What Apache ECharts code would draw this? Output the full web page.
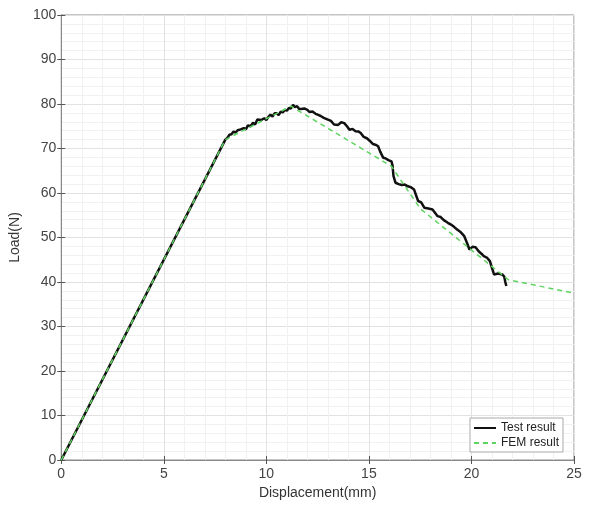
<!DOCTYPE html>
<html>
<head>
<meta charset="utf-8">
<script src="https://cdn.jsdelivr.net/npm/echarts@6/dist/echarts.min.js"></script>
<style>
  html, body { margin: 0; padding: 0; background: #fff; }
  #chart { width: 590px; height: 505px; }
</style>
</head>
<body>
<div id="chart"></div>
<script>
// measured test curve (displacement mm, load N)
var testDisp = [0, 8, 8.1, 8.2, 8.3, 8.4, 8.5, 8.6, 8.75, 8.9, 9.0, 9.1, 9.24, 9.35, 9.45, 9.56, 9.65, 9.75, 9.9, 10.0,
  10.1, 10.2, 10.3, 10.4, 10.5, 10.6, 10.7, 10.8, 10.9, 11.0, 11.1, 11.2, 11.3, 11.4, 11.5, 11.6, 11.7, 11.85, 12.0, 12.1,
  12.25, 12.4, 12.5, 12.65, 12.8, 13.0, 13.15, 13.3, 13.5, 13.65, 13.8, 13.95, 14.05, 14.2, 14.35, 14.5, 14.6, 14.75, 14.9, 15.05,
  15.2, 15.35, 15.45, 15.55, 15.7, 15.8, 15.95, 16.1, 16.15, 16.2, 16.3, 16.45, 16.6, 16.75, 16.9, 17.05, 17.2, 17.3, 17.4, 17.55,
  17.7, 17.9, 18.1, 18.25, 18.35, 18.5, 18.65, 18.85, 19.0, 19.15, 19.3, 19.45, 19.65, 19.8, 19.9, 20.05, 20.2, 20.35, 20.5, 20.6,
  20.75, 20.9, 21.0, 21.1, 21.3, 21.5, 21.6, 21.65, 21.7];
var testLoad = [0, 72, 72.4, 73.1, 73.2, 73.8, 73.6, 74.1, 74.3, 74.6, 74.3, 75.2, 75.0, 75.8, 75.4, 76.5, 76.1, 76.4, 76.8, 76.4,
  77.1, 77.6, 77.2, 77.9, 77.9, 77.5, 78.3, 78.1, 78.7, 78.5, 79.1, 79.0, 79.8, 79.3, 79.5, 78.9, 78.9, 79.0, 78.7, 78.2,
  78.3, 77.8, 77.6, 77.3, 76.9, 76.5, 76.2, 75.4, 75.3, 75.9, 75.7, 74.9, 74.2, 74.4, 73.9, 73.8, 73.5, 72.6, 72.3, 71.7,
  71.0, 70.8, 70.5, 69.3, 67.9, 67.8, 67.4, 67.1, 66.2, 63.8, 62.3, 62.0, 61.8, 61.9, 61.5, 61.3, 60.8, 59.5, 58.2, 57.9,
  56.7, 56.5, 56.3, 55.4, 54.8, 54.6, 53.9, 53.3, 52.9, 52.4, 51.8, 51.3, 50.3, 48.6, 47.3, 47.9, 47.8, 46.9, 46.3, 45.8,
  45.5, 44.7, 43.2, 41.7, 41.9, 41.7, 41.2, 40.0, 39.1];

// FEM curve
var femDisp = [0, 8, 11.2, 16.1, 17.5, 21.8, 25];
var femLoad = [0, 72, 79.5, 66, 56.5, 40.5, 37.5];

var xTicks = [0, 5, 10, 15, 20, 25];
var yTicks = [0, 10, 20, 30, 40, 50, 60, 70, 80, 90, 100];

function pairs(xs, ys) {
  return xs.map(function (x, i) { return [x, ys[i]]; });
}

var chart = echarts.init(document.getElementById('chart'));
var font = "'Liberation Sans', Arial, sans-serif";
var axisCol = '#8a8a8a';

var option = {
  animation: false,
  grid: { left: 61, right: 16, top: 15, bottom: 44, show: true, borderColor: axisCol, borderWidth: 1 },
  legend: {
    orient: 'vertical',
    right: 27, bottom: 53,
    backgroundColor: '#fff',
    borderColor: '#aaa', borderWidth: 1,
    padding: [4, 4, 3, 3],
    itemGap: 3,
    itemWidth: 22, itemHeight: 10,
    itemStyle: { opacity: 0 },
    textStyle: { fontFamily: font, fontSize: 12, color: '#222' },
    data: ['Test result', 'FEM result']
  },
  xAxis: [{
    type: 'value', min: xTicks[0], max: xTicks[xTicks.length - 1], interval: 5,
    name: 'Displacement(mm)', nameLocation: 'middle', nameGap: 26,
    nameTextStyle: { fontFamily: font, fontSize: 14, color: '#333' },
    axisLine: { lineStyle: { color: axisCol } },
    axisTick: { inside: true, length: 4, lineStyle: { color: '#555' } },
    axisLabel: { fontFamily: font, fontSize: 14, color: '#444', margin: 7 },
    splitLine: { lineStyle: { color: '#e2e2e2' } },
    minorTick: { show: true, splitNumber: 5, length: 0 },
    minorSplitLine: { show: true, lineStyle: { color: '#f1f1f1' } }
  }, {
    type: 'value', position: 'top', min: 0, max: 25, interval: 5,
    axisLine: { show: true, lineStyle: { color: axisCol } },
    axisTick: { inside: true, length: 4, lineStyle: { color: '#555' } },
    axisLabel: { show: false }, splitLine: { show: false }
  }],
  yAxis: [{
    type: 'value', min: yTicks[0], max: yTicks[yTicks.length - 1], interval: 10,
    name: 'Load(N)', nameLocation: 'middle', nameGap: 30,
    nameTextStyle: { fontFamily: font, fontSize: 14, color: '#333' },
    axisLine: { show: true, lineStyle: { color: axisCol } },
    axisTick: { show: true, inside: true, length: 4, lineStyle: { color: '#555' } },
    axisLabel: { fontFamily: font, fontSize: 14, color: '#444', margin: 5 },
    splitLine: { lineStyle: { color: '#e2e2e2' } },
    minorTick: { show: true, splitNumber: 5, length: 0 },
    minorSplitLine: { show: true, lineStyle: { color: '#f1f1f1' } }
  }, {
    type: 'value', position: 'right', min: 0, max: 100, interval: 10,
    axisLine: { show: true, lineStyle: { color: axisCol } },
    axisTick: { show: true, inside: true, length: 4, lineStyle: { color: '#555' } },
    axisLabel: { show: false }, splitLine: { show: false }
  }],
  series: [{
    name: 'Test result',
    type: 'line',
    showSymbol: false,
    symbol: 'none',
    data: pairs(testDisp, testLoad),
    lineStyle: { color: '#111', width: 2.5 },
    itemStyle: { color: '#111' },
    z: 2
  }, {
    name: 'FEM result',
    type: 'line',
    showSymbol: false,
    symbol: 'none',
    data: pairs(femDisp, femLoad),
    lineStyle: { color: '#5fd35f', width: 1.5, type: [5, 4] },
    itemStyle: { color: '#5fd35f' },
    z: 3
  }]
};

chart.setOption(option);
</script>
</body>
</html>
